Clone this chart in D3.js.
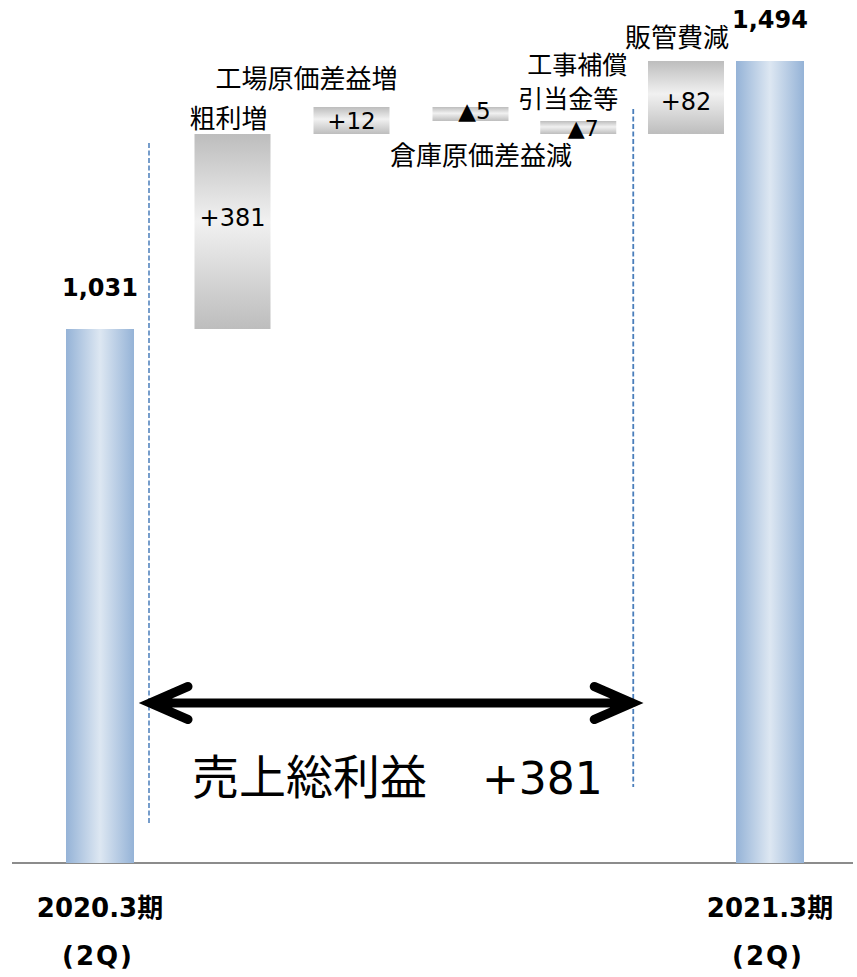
<!DOCTYPE html>
<html>
<head>
<meta charset="utf-8">
<script src="https://cdn.jsdelivr.net/npm/d3@7"></script>
<style>
  html, body { margin: 0; padding: 0; background: #fff; }
  svg { display: block; }
</style>
</head>
<body>
<svg id="chart" width="857" height="977"></svg>
<script>
// ---- data ----
const categories = ["2020.3期", "粗利増", "工場原価差益増", "倉庫原価差益減", "工事補償引当金等", "販管費減", "2021.3期"];
const kinds      = ["total", "delta", "delta", "delta", "delta", "delta", "total"];
const values     = [1031, 381, 12, -5, -7, 82, 1494];
const valueLabels = ["1,031", "+381", "+12", "▲5", "▲7", "+82", "1,494"];
const periodLabels = ["2020.3期", "2021.3期"];
const quarterLabels = ["(2Q)", "(2Q)"];
const summaryName = "売上総利益";
const summaryValue = "+381";

// ---- compute waterfall spans ----
let running = 0;
const bars = values.map((v, i) => {
  let lo, hi;
  if (kinds[i] === "total") { lo = 0; hi = v; running = v; }
  else { const start = running; running += v; lo = Math.min(start, running); hi = Math.max(start, running); }
  return { i, cat: categories[i], kind: kinds[i], value: v, lo, hi, label: valueLabels[i] };
});

const svg = d3.select("#chart");

// ---- scales ----
const x = d3.scaleLinear().domain([0, 1, 3, 5, 6]).range([100, 232.5, 470.5, 686, 770]);
const y = d3.scaleLinear().domain([0, 1031, 1412, 1419, 1424, 1494]).range([863, 329, 134, 121, 107, 61]);
const width = d => d.kind === "total" ? 68 : 76;

// ---- gradients ----
const defs = svg.append("defs");
const bg = defs.append("linearGradient").attr("id", "blueGrad").attr("x1", 0).attr("x2", 1).attr("y1", 0).attr("y2", 0);
bg.append("stop").attr("offset", "0%").attr("stop-color", "#95b3d7");
bg.append("stop").attr("offset", "50%").attr("stop-color", "#dde7f2");
bg.append("stop").attr("offset", "100%").attr("stop-color", "#95b3d7");
const gg = defs.append("linearGradient").attr("id", "grayGrad").attr("x1", 0).attr("x2", 0).attr("y1", 0).attr("y2", 1);
gg.append("stop").attr("offset", "0%").attr("stop-color", "#bdbdbd");
gg.append("stop").attr("offset", "45%").attr("stop-color", "#f1f1f1");
gg.append("stop").attr("offset", "100%").attr("stop-color", "#bdbdbd");

// ---- baseline ----
svg.append("line").attr("x1", 12).attr("x2", 853).attr("y1", y(0)).attr("y2", y(0))
  .attr("stroke", "#8c8c8c").attr("stroke-width", 2);

// ---- dashed guides ----
const dashColor = "#4a7ebb";
svg.append("line").attr("x1", x(0) + 49).attr("x2", x(0) + 49).attr("y1", 143).attr("y2", 823)
  .attr("stroke", dashColor).attr("stroke-width", 1.5).attr("stroke-dasharray", "5,2.5");
svg.append("line").attr("x1", x(4) + 55).attr("x2", x(4) + 55).attr("y1", 109).attr("y2", 787)
  .attr("stroke", dashColor).attr("stroke-width", 1.8).attr("stroke-dasharray", "5,2.5");

// ---- bars ----
svg.selectAll("rect.bar").data(bars).enter().append("rect")
  .attr("class", "bar")
  .attr("x", d => x(d.i) - width(d) / 2)
  .attr("width", d => width(d))
  .attr("y", d => y(d.hi))
  .attr("height", d => y(d.lo) - y(d.hi))
  .attr("fill", d => d.kind === "total" ? "url(#blueGrad)" : "url(#grayGrad)");

// ---- total value labels ----
const boldFont = "'DejaVu Sans', 'Noto Sans CJK JP', sans-serif";
const numFont = "'DejaVu Sans', sans-serif";
const cjkFont = "'Noto Sans CJK JP', sans-serif";
svg.selectAll("text.total").data(bars.filter(d => d.kind === "total")).enter().append("text")
  .attr("class", "total")
  .attr("x", d => x(d.i))
  .attr("y", d => y(d.hi) - 33)
  .attr("text-anchor", "middle")
  .attr("font-family", boldFont).attr("font-weight", "bold").attr("font-size", 24)
  .text(d => d.label);

// ---- delta value labels (inside bars) ----
const inDy = { 1: -14, 2: 0, 3: -3, 4: 1, 5: 4 };
const inDx = { 3: 4, 4: 5 };
const inSize = { 1: 24, 2: 23, 3: 23, 4: 22, 5: 24 };
svg.selectAll("text.delta").data(bars.filter(d => d.kind === "delta")).enter().append("text")
  .attr("class", "delta")
  .attr("x", d => x(d.i) + (inDx[d.i] || 0))
  .attr("y", d => (y(d.hi) + y(d.lo)) / 2 + (inDy[d.i] || 0))
  .attr("text-anchor", "middle").attr("dominant-baseline", "central")
  .attr("font-family", numFont).attr("font-size", d => inSize[d.i])
  .attr("fill", "#000")
  .text(d => d.label);

// ---- category labels ----
const lab = (txt, xx, yy, anchor, size) => svg.append("text")
  .attr("x", xx).attr("y", yy)
  .attr("text-anchor", anchor || "middle").attr("dominant-baseline", "central")
  .attr("font-family", cjkFont).attr("font-size", size || 26).attr("fill", "#000").text(txt);
const B = i => bars[i];
lab(categories[1], x(1) - 4, y(B(1).hi) - 18);
lab(categories[2], x(2) - 45, y(B(2).hi) - 31);
lab(categories[3], x(3) + 10.5, y(B(3).lo) + 32);
lab(categories[4].slice(0, 4), x(4) + 49, y(B(4).hi) - 58, "end", 25);
lab(categories[4].slice(4), x(4) + 40, y(B(4).hi) - 24, "end", 25);
lab(categories[5], x(5) - 9, y(B(5).hi) - 26);

// ---- period labels ----
[0, 6].forEach((idx, k) => {
  svg.append("text").attr("x", x(idx)).attr("y", y(0) + 54)
    .attr("text-anchor", "middle")
    .attr("font-family", boldFont).attr("font-weight", "bold").attr("font-size", 26)
    .text(periodLabels[k]);
  svg.append("text").attr("x", x(idx) - 2).attr("y", y(0) + 102)
    .attr("text-anchor", "middle")
    .attr("font-family", boldFont).attr("font-weight", "bold").attr("font-size", 26)
    .attr("letter-spacing", 2)
    .text(quarterLabels[k]);
});

// ---- double arrow ----
const ax1 = x(0) + 50, ax2 = x(4) + 54, ay = 703;
const arrow = d3.path();
arrow.moveTo(ax1, ay); arrow.lineTo(ax2, ay);
arrow.moveTo(ax1 + 38, ay - 16.5); arrow.lineTo(ax1, ay); arrow.lineTo(ax1 + 38, ay + 16.5);
arrow.moveTo(ax2 - 38, ay - 16.5); arrow.lineTo(ax2, ay); arrow.lineTo(ax2 - 38, ay + 16.5);
svg.append("path").attr("d", arrow.toString()).attr("fill", "none")
  .attr("stroke", "#000").attr("stroke-width", 9)
  .attr("stroke-linecap", "round").attr("stroke-linejoin", "miter");

// ---- summary label ----
const sum = svg.append("text").attr("x", 192).attr("y", 794).attr("fill", "#000");
sum.append("tspan").attr("font-family", cjkFont).attr("font-size", 47).text(summaryName);
sum.append("tspan").attr("x", 482).attr("font-family", numFont).attr("font-size", 44).text(summaryValue);
</script>
</body>
</html>
